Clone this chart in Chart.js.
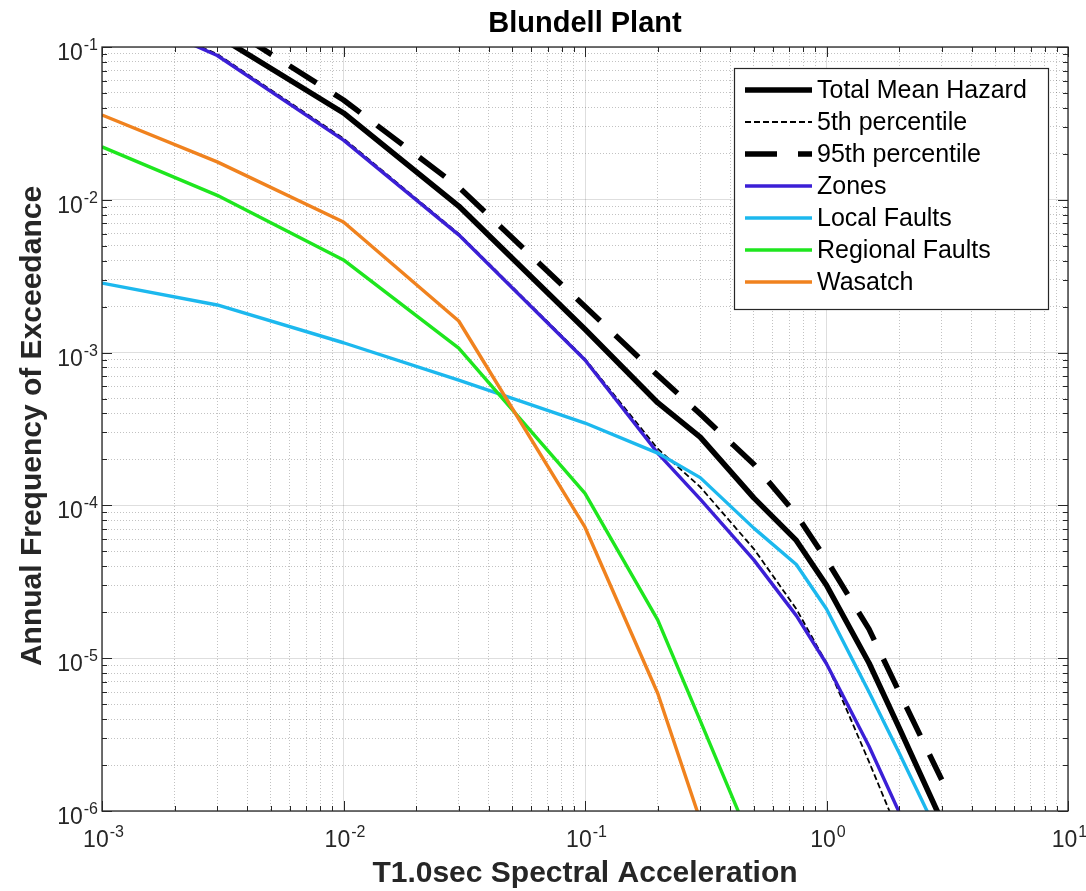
<!DOCTYPE html>
<html>
<head>
<meta charset="utf-8">
<title>Blundell Plant</title>
<script src="https://cdn.jsdelivr.net/npm/chart.js@4.4.1/dist/chart.umd.min.js"></script>
<style>
  html, body { margin: 0; padding: 0; background: #fff; }
  #wrap { width: 1086px; height: 891px; position: relative; }
</style>
</head>
<body>
<div id="wrap"><canvas id="hazardChart"></canvas></div>
<script>
// Spectral acceleration levels (g) of the hazard calculation
const accel = [0.001, 0.003, 0.01, 0.03, 0.1, 0.2, 0.3, 0.5, 0.75, 1.0, 1.5, 2.0, 3.0];

// Annual frequency of exceedance for each curve
const totalMean = [0.25, 0.119, 0.037, 9.1e-3, 1.42e-3, 4.7e-4, 2.8e-4, 1.12e-4, 5.9e-5, 3.0e-5, 9.3e-6, 3.5e-6, 8.6e-7];
const pct5 = [0.19, 0.09, 0.0252, 6.0e-3, 9.1e-4, 2.35e-4, 1.32e-4, 5.2e-5, 2.1e-5, 9.3e-6, 2.1e-6, 7.0e-7, 1.2e-7];
const pct95 = [0.33, 0.15, 0.045, 0.0121, 2.0e-3, 7.1e-4, 3.97e-4, 1.86e-4, 8.7e-5, 4.4e-5, 1.55e-5, 6.0e-6, 1.6e-6];
const zones = [0.19, 0.088, 0.0246, 5.9e-3, 8.95e-4, 2.2e-4, 1.1e-4, 4.4e-5, 1.9e-5, 9.2e-6, 2.65e-6, 9.8e-7, 2.3e-7];
const localFaults = [2.85e-3, 2.05e-3, 1.16e-3, 6.6e-4, 3.46e-4, 2.2e-4, 1.52e-4, 7.1e-5, 4.1e-5, 2.1e-5, 6.0e-6, 2.4e-6, 6.3e-7];
const regionalFaults = [0.0222, 0.0107, 4.04e-3, 1.07e-3, 1.2e-4, 1.78e-5, 3.9e-6, 5.7e-7];
const wasatch = [0.0359, 0.0177, 7.16e-3, 1.61e-3, 7.2e-5, 5.9e-6, 8.7e-7];

// Decade exponents used for the axis labels
const xTickExps = [-3, -2, -1, 0, 1];
const yTickExps = [-6, -5, -4, -3, -2, -1];

const FONT = '"Liberation Sans", Arial, sans-serif';
const AXIS_COLOR = '#262626';

const pts = vals => vals.map((v, i) => ({ x: accel[i], y: v }));
const isDecade = v => Math.abs(Math.log10(v) - Math.round(Math.log10(v))) < 1e-6;

// 1..9 x 10^n ticks between two decades
function logTicks(minExp, maxExp) {
    const t = [];
    for (let e = minExp; e < maxExp; e++) {
        for (let m = 1; m < 10; m++) t.push({ value: m * Math.pow(10, e) });
    }
    t.push({ value: Math.pow(10, maxExp) });
    return t;
}

const series = [
    { label: 'Total Mean Hazard', data: totalMean, color: '#000000', width: 5.5, dash: [] },
    { label: '5th percentile', data: pct5, color: '#000000', width: 1.8, dash: [6, 3] },
    { label: '95th percentile', data: pct95, color: '#000000', width: 5.5, dash: [32, 21] },
    { label: 'Zones', data: zones, color: '#3b1fd6', width: 3.4, dash: [] },
    { label: 'Local Faults', data: localFaults, color: '#1cb8ee', width: 3.4, dash: [] },
    { label: 'Regional Faults', data: regionalFaults, color: '#1ee61e', width: 3.4, dash: [] },
    { label: 'Wasatch', data: wasatch, color: '#f0821e', width: 3.4, dash: [] }
];

function gridOpts() {
    return {
        drawTicks: false,
        lineWidth: 1,
        color: ctx => (ctx.tick && !isDecade(ctx.tick.value)) ? 'rgba(0,0,0,0.24)' : 'rgba(0,0,0,0.13)'
    };
}
function borderOpts() {
    return {
        display: false,
        dash: ctx => (ctx.tick && !isDecade(ctx.tick.value)) ? [1, 2] : []
    };
}

// "10" with a raised exponent
function powerLabel(ctx, exp, x, baseY, anchor) {
    const base = '23px ' + FONT, sup = '16px ' + FONT;
    const s = String(exp);
    ctx.font = base;
    const w1 = ctx.measureText('10').width;
    ctx.font = sup;
    const w2 = ctx.measureText(s).width;
    let left = anchor === 'right' ? x - w1 - w2 : x - (w1 + w2) / 2;
    ctx.textAlign = 'left';
    ctx.textBaseline = 'alphabetic';
    ctx.font = base;
    ctx.fillText('10', left, baseY);
    ctx.font = sup;
    ctx.fillText(s, left + w1 + 1, baseY - 10);
}

const matlabAxes = {
    id: 'matlabAxes',
    afterDatasetsDraw(chart) {
        const { ctx, chartArea: a, scales: { x, y } } = chart;
        ctx.save();
        ctx.strokeStyle = AXIS_COLOR;
        ctx.lineWidth = 1.3;
        ctx.strokeRect(a.left, a.top, a.right - a.left, a.bottom - a.top);

        // inward tick marks on all four sides
        ctx.lineWidth = 1;
        ctx.beginPath();
        x.ticks.forEach(t => {
            const px = Math.round(x.getPixelForValue(t.value)) + 0.5;
            const len = isDecade(t.value) ? 10 : 5;
            ctx.moveTo(px, a.bottom); ctx.lineTo(px, a.bottom - len);
            ctx.moveTo(px, a.top); ctx.lineTo(px, a.top + len);
        });
        y.ticks.forEach(t => {
            const py = Math.round(y.getPixelForValue(t.value)) + 0.5;
            const len = isDecade(t.value) ? 10 : 5;
            ctx.moveTo(a.left, py); ctx.lineTo(a.left + len, py);
            ctx.moveTo(a.right, py); ctx.lineTo(a.right - len, py);
        });
        ctx.stroke();

        ctx.fillStyle = AXIS_COLOR;
        xTickExps.forEach(e => {
            powerLabel(ctx, e, x.getPixelForValue(Math.pow(10, e)) + 1, a.bottom + 36, 'center');
        });
        yTickExps.forEach(e => {
            powerLabel(ctx, e, a.left - 5, y.getPixelForValue(Math.pow(10, e)) + 13, 'right');
        });

        // titles
        const cx = (a.left + a.right) / 2;
        ctx.textAlign = 'center';
        ctx.textBaseline = 'alphabetic';
        ctx.fillStyle = '#000';
        ctx.font = 'bold 29px ' + FONT;
        ctx.fillText('Blundell Plant', cx, 32);
        ctx.fillStyle = AXIS_COLOR;
        ctx.font = 'bold 30px ' + FONT;
        ctx.fillText('T1.0sec Spectral Acceleration', cx, 882);
        ctx.save();
        ctx.translate(41, (a.top + a.bottom) / 2 - 3);
        ctx.rotate(-Math.PI / 2);
        ctx.fillText('Annual Frequency of Exceedance', 0, 0);
        ctx.restore();

        // legend box, upper right
        const lw = 314, lh = 241;
        const lx = a.right - 20 - lw, ly = a.top + 21;
        ctx.fillStyle = '#fff';
        ctx.fillRect(lx, ly, lw, lh);
        ctx.strokeStyle = AXIS_COLOR;
        ctx.lineWidth = 1.2;
        ctx.strokeRect(lx + 0.5, ly + 0.5, lw, lh);
        ctx.font = '25px ' + FONT;
        ctx.textAlign = 'left';
        ctx.textBaseline = 'middle';
        chart.data.datasets.forEach((ds, i) => {
            const ry = ly + 22 + i * 32;
            ctx.save();
            ctx.strokeStyle = ds.borderColor;
            ctx.lineWidth = ds.borderWidth;
            ctx.setLineDash(ds.borderDash || []);
            ctx.beginPath();
            ctx.moveTo(lx + 11, ry);
            ctx.lineTo(lx + 78, ry);
            ctx.stroke();
            ctx.restore();
            ctx.fillStyle = '#000';
            ctx.fillText(ds.label, lx + 83, ry + 1);
        });
        ctx.restore();
    }
};

const ctx = document.getElementById('hazardChart').getContext('2d');
const hazardChart = new Chart(ctx, {
    type: 'line',
    data: {
        datasets: series.map((s, i) => ({
            label: s.label,
            data: pts(s.data),
            borderColor: s.color,
            backgroundColor: s.color,
            borderWidth: s.width,
            borderDash: s.dash,
            borderJoinStyle: 'round',
            pointRadius: 0,
            tension: 0,
            fill: false,
            clip: 0,
            order: series.length - 1 - i
        }))
    },
    options: {
        responsive: true,
        maintainAspectRatio: false,
        animation: false,
        events: [],
        layout: { padding: { left: 102, right: 18, top: 47, bottom: 80 } },
        plugins: { legend: { display: false }, title: { display: false }, tooltip: { enabled: false } },
        scales: {
            x: {
                type: 'logarithmic',
                min: 1e-3,
                max: 10,
                afterBuildTicks: scale => { scale.ticks = logTicks(-3, 1); },
                ticks: { display: false },
                grid: gridOpts(),
                border: borderOpts()
            },
            y: {
                type: 'logarithmic',
                min: 1e-6,
                max: 1e-1,
                afterBuildTicks: scale => { scale.ticks = logTicks(-6, -1); },
                ticks: { display: false },
                grid: gridOpts(),
                border: borderOpts()
            }
        }
    },
    plugins: [matlabAxes]
});
</script>
</body>
</html>
